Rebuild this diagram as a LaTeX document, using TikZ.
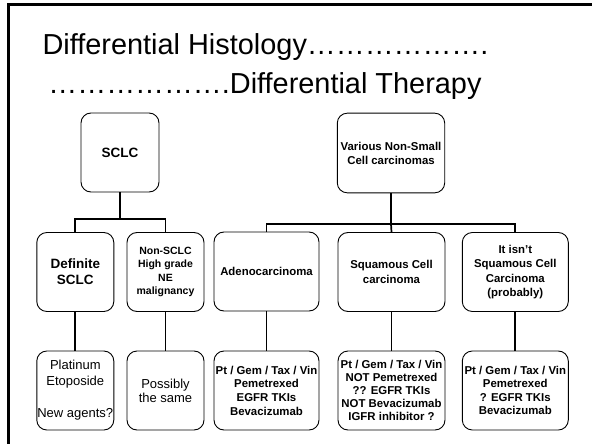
\documentclass[tikz,border=0pt]{standalone}
\usepackage{fontspec}
\setmainfont{Liberation Sans}
\begin{document}
\begin{tikzpicture}[x=1pt,y=-1pt,
  box/.style={draw=black, line width=0.9pt, rounded corners=10pt, inner sep=0pt, align=center, font=\bfseries\fontsize{11.4}{13.5}\selectfont},
  bigbox/.style={box, font=\bfseries\fontsize{13.5}{16}\selectfont},
  plainbox/.style={box, font=\fontsize{13}{16}\selectfont},
  sw/.style={minimum width=77pt, minimum height=79pt},
  ww/.style={minimum width=106pt, minimum height=79pt},
  conn/.style={line width=1.7pt},
  ttl/.style={font=\fontsize{28.9}{38}\selectfont, anchor=base, inner sep=0pt}]
\useasboundingbox (0,0) rectangle (592,444);
\fill[white] (0,0) rectangle (592,444);
\draw[line width=2.6pt] (8.7,470) -- (8.7,4.7) -- (610,4.7);
% title
\node[ttl] (t1) at (265.5,55) {Differential Histology……………….};
\node[ttl] (t2) at (265,93) {……………….Differential Therapy};
% SCLC tree
\node[bigbox, minimum width=78pt, minimum height=79pt] (sclc) at (120,152.5) {SCLC};
\node[bigbox, sw] (dsclc) at (75.3,272) {Definite\\SCLC};
\node[box, sw, font=\bfseries\fontsize{10.5}{13.3}\selectfont] (nsclc) at (165.5,272) {Non-SCLC\\High grade\\NE\\malignancy};
\node[plainbox, sw] (plat) at (75.3,390.5) {Platinum\\Etoposide\\[16pt]New agents?};
\node[plainbox, sw, font=\fontsize{13}{14}\selectfont] (poss) at (165.5,390.5) {Possibly\\the same};
\coordinate (b1) at (120,219.3);
\draw[conn] (sclc.south) -- (b1);
\draw[conn] (dsclc.north) |- (b1) -| (nsclc.north);
\draw[conn] (dsclc.south) -- (plat.north);
\draw[conn] (nsclc.south) -- (poss.north);
% NSCLC tree
\node[box, minimum width=107.4pt, minimum height=79.7pt, font=\bfseries\fontsize{11.4}{14}\selectfont] (various) at (391,153) {Various Non-Small\\Cell carcinomas};
\node[box, minimum width=105pt, minimum height=79pt] (adeno) at (266.5,271.5) {Adenocarcinoma};
\node[box, minimum width=107pt, minimum height=79pt, font=\bfseries\fontsize{11.4}{14.5}\selectfont] (squam) at (391.5,272) {Squamous Cell\\carcinoma};
\node[box, ww, font=\bfseries\fontsize{11.4}{14.5}\selectfont] (isnt) at (515.3,272) {It isn’t\\Squamous Cell\\Carcinoma\\(probably)};
\node[box, minimum width=105pt, minimum height=79pt, font=\bfseries\fontsize{11.4}{13.7}\selectfont] (adtx) at (266.5,390.5) {Pt / Gem / Tax / Vin\\Pemetrexed\\EGFR TKIs\\Bevacizumab};
\node[box, minimum width=107pt, minimum height=79pt, font=\bfseries\fontsize{11.4}{13.1}\selectfont] (sqtx) at (391.5,390.5) {Pt / Gem / Tax / Vin\\NOT Pemetrexed\\?? EGFR TKIs\\NOT Bevacizumab\\IGFR inhibitor ?};
\node[box, ww, font=\bfseries\fontsize{11.4}{13.5}\selectfont] (istx) at (515.3,390.5) {Pt / Gem / Tax / Vin\\Pemetrexed\\? EGFR TKIs\\Bevacizumab};
\coordinate (b2) at (391,224);
\draw[conn] (various.south) -- (b2);
\draw[conn] (adeno.north) |- (b2) -| (isnt.north);
\draw[conn] (b2) -- (squam.north);
\draw[conn] (adeno.south) -- (adtx.north);
\draw[conn] (squam.south) -- (sqtx.north);
\draw[conn] (isnt.south) -- (istx.north);
\end{tikzpicture}
\end{document}
